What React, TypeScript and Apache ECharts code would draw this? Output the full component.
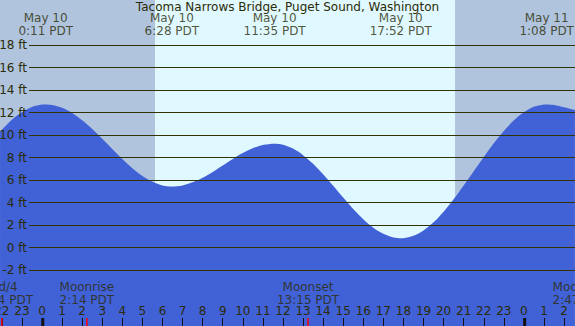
import React, { useEffect, useRef } from "react";
import * as echarts from "echarts";

const tideHours = [-2.09, -2, -1.5, -1, -0.5, 0, 0.183, 0.5, 1, 1.5, 2, 2.5, 3, 3.5, 4, 4.5, 5, 5.5, 6, 6.467, 7, 7.5, 8, 8.5, 9, 9.5, 10, 10.5, 11, 11.583, 12, 12.5, 13, 13.5, 14, 14.5, 15, 15.5, 16, 16.5, 17, 17.5, 17.867, 18, 18.5, 19, 19.5, 20, 20.5, 21, 21.5, 22, 22.5, 23, 23.5, 24, 24.5, 25, 25.133, 25.5, 26, 26.54];
const tideFeet = [10.3, 10.45, 11.34, 12.0, 12.47, 12.68, 12.7, 12.65, 12.4, 11.94, 11.29, 10.51, 9.64, 8.73, 7.84, 7.03, 6.34, 5.82, 5.5, 5.4, 5.5, 5.77, 6.18, 6.7, 7.27, 7.85, 8.37, 8.8, 9.08, 9.2, 9.11, 8.77, 8.19, 7.42, 6.49, 5.47, 4.42, 3.41, 2.5, 1.74, 1.19, 0.87, 0.8, 0.81, 1.02, 1.5, 2.22, 3.16, 4.26, 5.48, 6.75, 8.02, 9.24, 10.34, 11.28, 12.0, 12.48, 12.69, 12.7, 12.65, 12.44, 12.2];

const extremaHours = [0.183, 6.467, 11.583, 17.867, 25.133];
const extremaDates = ["May 10", "May 10", "May 10", "May 10", "May 11"];
const extremaTimes = ["0:11 PDT", "6:28 PDT", "11:35 PDT", "17:52 PDT", "1:08 PDT"];

const moonHours = [-2.0, 2.233, 13.25, 26.783];
const moonNames = ["3rd/4", "Moonrise", "Moonset", "Moonrise"];
const moonTimes = ["22:04 PDT", "2:14 PDT", "13:15 PDT", "2:47 PDT"];

const sunriseHour = 5.63;
const sunsetHour = 20.57;
const midnightHours = [0, 24];

const yTicksMin = -2;
const yTicksMax = 18;

const title = "Tacoma Narrows Bridge, Puget Sound, Washington";

const X_MIN = -2.092;
const X_MAX = 26.544;
const Y_MIN = -7.0;
const Y_MAX = 21.98;

const FONT = "DejaVu Sans, sans-serif";
const FS = 12;
const TEXT = "#2b2b05";
const NIGHT = "#b0c4de";
const DAY = "#e0f8ff";
const WATER = "#4161d6";
const GRID = "#333300";

export default function App() {
  const ref = useRef<HTMLDivElement>(null);
  useEffect(() => {
    if (!ref.current) return;
    const chart = echarts.init(ref.current, undefined, { renderer: "svg" });
    const pxPerHour = 575 / (X_MAX - X_MIN);
    const tickLeft = (-2 - X_MIN) * pxPerHour;
    const tickWidth = 28 * pxPerHour;
    const labelStyle = {
      show: true,
      position: "inside",
      formatter: (p: any) => p.name,
      fontSize: FS,
      lineHeight: 13,
      fontFamily: FONT,
      color: TEXT,
      align: "center",
      verticalAlign: "middle",
    };
    const option: any = {
      animation: false,
      title: {
        text: title,
        left: "center",
        top: 0,
        padding: 0,
        textStyle: { fontSize: FS, fontWeight: "normal", color: TEXT, fontFamily: FONT, lineHeight: 14 },
      },
      grid: [
        { left: 0, right: 0, top: 0, bottom: 0, outerBoundsMode: "none", containLabel: false },
        { left: 29, right: 0, top: 45, height: 225, outerBoundsMode: "none", containLabel: false },
        { left: tickLeft, width: tickWidth, top: 300, height: 26, outerBoundsMode: "none", containLabel: false },
        { left: 0, right: 0, top: 318, height: 8, outerBoundsMode: "none", containLabel: false },
      ],
      xAxis: [
        { type: "value", gridIndex: 0, min: X_MIN, max: X_MAX, show: false },
        { type: "value", gridIndex: 1, min: 0, max: 1, show: false },
        {
          type: "value",
          gridIndex: 2,
          min: -2,
          max: 26,
          interval: 1,
          position: "bottom",
          z: 10,
          axisLine: { show: false },
          splitLine: { show: false },
          axisTick: { show: true, inside: true, length: 8, lineStyle: { color: "#111", width: 1 } },
          axisLabel: {
            show: true,
            inside: true,
            margin: 9,
            interval: 0,
            hideOverlap: false,
            showMinLabel: true,
            showMaxLabel: true,
            fontSize: FS,
            fontFamily: FONT,
            color: TEXT,
            formatter: (v: number) => String(((Math.round(v) % 24) + 24) % 24),
          },
        },
        { type: "value", gridIndex: 3, min: X_MIN, max: X_MAX, show: false },
      ],
      yAxis: [
        { type: "value", gridIndex: 0, min: Y_MIN, max: Y_MAX, show: false },
        {
          type: "value",
          gridIndex: 1,
          min: yTicksMin,
          max: yTicksMax,
          interval: 2,
          z: 10,
          axisLine: { show: false },
          axisTick: { show: false },
          splitLine: { show: true, lineStyle: { color: GRID, width: 1 } },
          axisLabel: { formatter: "{value} ft", margin: 2, fontSize: FS, fontFamily: FONT, color: TEXT },
        },
        { type: "value", gridIndex: 2, min: 0, max: 1, show: false },
        { type: "value", gridIndex: 3, min: 0, max: 1, show: false },
      ],
      series: [
        {
          type: "line",
          xAxisIndex: 0,
          yAxisIndex: 0,
          z: 1,
          data: [],
          symbol: "none",
          silent: true,
          markArea: {
            silent: true,
            data: [
              [{ xAxis: X_MIN, itemStyle: { color: NIGHT } }, { xAxis: sunriseHour }],
              [{ xAxis: sunriseHour, itemStyle: { color: DAY } }, { xAxis: sunsetHour }],
              [{ xAxis: sunsetHour, itemStyle: { color: NIGHT } }, { xAxis: X_MAX }],
            ],
          },
        },
        {
          type: "line",
          xAxisIndex: 0,
          yAxisIndex: 0,
          z: 2,
          smooth: 0.3,
          symbol: "none",
          lineStyle: { width: 0 },
          areaStyle: { color: WATER, opacity: 1, origin: "start" },
          data: tideHours.map((h, i) => [h, tideFeet[i]]),
        },
        {
          type: "scatter",
          xAxisIndex: 0,
          yAxisIndex: 0,
          z: 12,
          symbolSize: 0,
          clip: false,
          data: extremaHours.map((h, i) => ({ value: [h, 19.78], name: extremaDates[i] + "\n" + extremaTimes[i] })),
          label: labelStyle,
        },
        {
          type: "scatter",
          xAxisIndex: 0,
          yAxisIndex: 0,
          z: 12,
          symbolSize: 0,
          clip: false,
          data: moonHours.map((h, i) => ({ value: [h, -4.09], name: moonNames[i] + "\n" + moonTimes[i] })),
          label: labelStyle,
        },
        {
          type: "bar",
          xAxisIndex: 3,
          yAxisIndex: 3,
          z: 12,
          barWidth: 3,
          itemStyle: { color: "#111" },
          data: midnightHours.map((h) => [h, 1]),
        },
        {
          type: "bar",
          xAxisIndex: 3,
          yAxisIndex: 3,
          z: 12,
          barWidth: 1.5,
          barGap: "-100%",
          itemStyle: { color: "#ff0000" },
          data: moonHours.map((h) => [h, 1]),
        },
      ],
    };
    chart.setOption(option);
    return () => chart.dispose();
  }, []);
  return <div ref={ref} style={{ width: 575, height: 326, position: "absolute", left: 0, top: 0 }} />;
}
